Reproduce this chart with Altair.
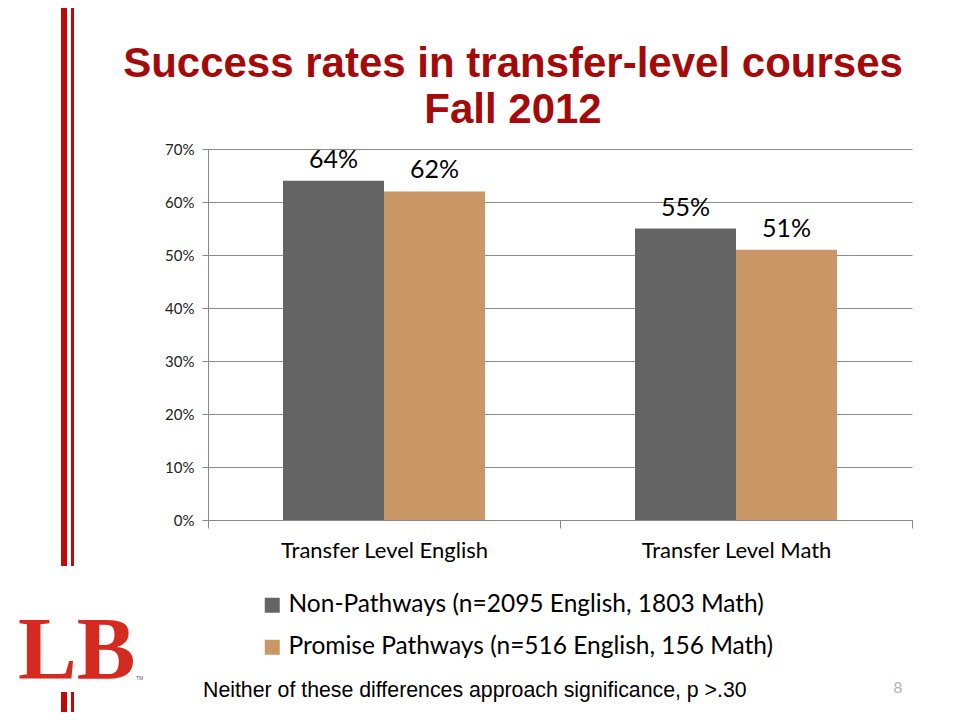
import altair as alt
import pandas as pd

categories = ["Transfer Level English", "Transfer Level Math"]
series = ["Non-Pathways (n=2095 English, 1803 Math)",
          "Promise Pathways (n=516 English, 156 Math)"]
non_pathways = [0.64, 0.55]
promise_pathways = [0.62, 0.51]
y_ticks = [0, 0.1, 0.2, 0.3, 0.4, 0.5, 0.6, 0.7]

title_lines = ["Success rates in transfer-level courses", "Fall 2012"]
footnote = "Neither of these differences approach significance, p >.30"
page_number = "8"

colors = ["#646464", "#C99665"]
RED = "#A50A0A"
LINE_RED = "#BE0A0A"
LOGO_RED = "#D42A20"
GRID = "#8A8A8A"

rows = []
for i, c in enumerate(categories):
    rows.append({"category": c, "series": series[0], "value": non_pathways[i],
                 "label": f"{round(non_pathways[i]*100)}%"})
    rows.append({"category": c, "series": series[1], "value": promise_pathways[i],
                 "label": f"{round(promise_pathways[i]*100)}%"})
df = pd.DataFrame(rows)

W, H = 704, 371

x_enc = alt.X("category:N", sort=categories,
              scale=alt.Scale(paddingInner=0, paddingOuter=0),
              axis=alt.Axis(title=None, labelAngle=0, labelFont="Lato", labelFontSize=22,
                            labelColor="#000", labelPadding=12, tickBand="extent",
                            labelLimit=400,
                            tickSize=8, tickColor=GRID, domainColor=GRID))
xo_enc = alt.XOffset("series:N", sort=series,
                     scale=alt.Scale(paddingOuter=0.743, paddingInner=0))
y_enc = alt.Y("value:Q", scale=alt.Scale(domain=[0, 0.7], nice=False),
              axis=alt.Axis(title=None, values=y_ticks, format=".0%", labelFont="Lato",
                            labelFontSize=15, labelColor="#222", labelPadding=8,
                            tickSize=6, tickColor=GRID, domainColor=GRID,
                            gridColor=GRID, grid=True))

bars = alt.Chart(df).mark_bar(size=101).encode(
    x=x_enc, xOffset=xo_enc, y=y_enc,
    color=alt.Color("series:N", sort=series,
                    scale=alt.Scale(domain=series, range=colors),
                    legend=alt.Legend(title=None, orient="none", legendX=52, legendY=444,
                                      labelFont="Lato", labelFontSize=24.5, labelColor="#000",
                                      symbolType="square", symbolSize=225, symbolStrokeWidth=0,
                                      symbolOpacity=1, rowPadding=17, labelOffset=4,
                                      labelLimit=600))
)

labels = alt.Chart(df).mark_text(font="Lato", fontSize=25, dy=-13, baseline="alphabetic",
                                 color="#000").encode(
    x=alt.X("category:N", sort=categories), xOffset=alt.XOffset("series:N", sort=series),
    y="value:Q", text="label:N")

one = pd.DataFrame({"k": [0]})

title1 = alt.Chart(one).mark_text(text=title_lines[0], font="Liberation Sans",
                                  fontWeight="bold", fontSize=42, color=RED, align="center",
                                  baseline="alphabetic").encode(x=alt.value(305), y=alt.value(-72))
title2 = alt.Chart(one).mark_text(text=title_lines[1], font="Liberation Sans",
                                  fontWeight="bold", fontSize=42, color=RED, align="center",
                                  baseline="alphabetic").encode(x=alt.value(305), y=alt.value(-26))

foot = alt.Chart(one).mark_text(text=footnote, font="Liberation Sans", fontSize=21.3,
                                color="#000", align="left", baseline="alphabetic").encode(
    x=alt.value(-5), y=alt.value(548))
pnum = alt.Chart(one).mark_text(text=page_number, font="Lato", fontSize=16,
                                color="#B5B5B5", align="center", baseline="alphabetic").encode(
    x=alt.value(690), y=alt.value(544))

def vline(x, y1, y2, w):
    return alt.Chart(one).mark_rule(color=LINE_RED, strokeWidth=w).encode(
        x=alt.value(x), y=alt.value(y1), y2=alt.value(y2))

lines = [vline(-144, -160, 417, 6), vline(-135.5, -160, 417, 3),
         vline(-144, 543, 580, 6), vline(-135.5, 543, 580, 3)]

logo = alt.Chart(one).mark_text(text="LB", font="Liberation Serif", fontWeight="bold", fontSize=88,
                                color=LOGO_RED, align="left", baseline="alphabetic").encode(
    x=alt.value(-190), y=alt.value(529))
tm = alt.Chart(one).mark_text(text="TM", font="Liberation Sans", fontSize=5,
                              color="#555", align="left", baseline="alphabetic").encode(
    x=alt.value(-72), y=alt.value(531))

chart = alt.layer(bars, labels, title1, title2, foot, pnum, *lines, logo, tm).properties(
    width=W, height=H,
    padding={"left": 200, "top": 141, "right": 40, "bottom": 192},
    autosize=alt.AutoSizeParams(type="none"),
    background="white",
).configure_view(stroke=None)

chart.save("out.html", embed_options={"renderer": "svg", "actions": False})
